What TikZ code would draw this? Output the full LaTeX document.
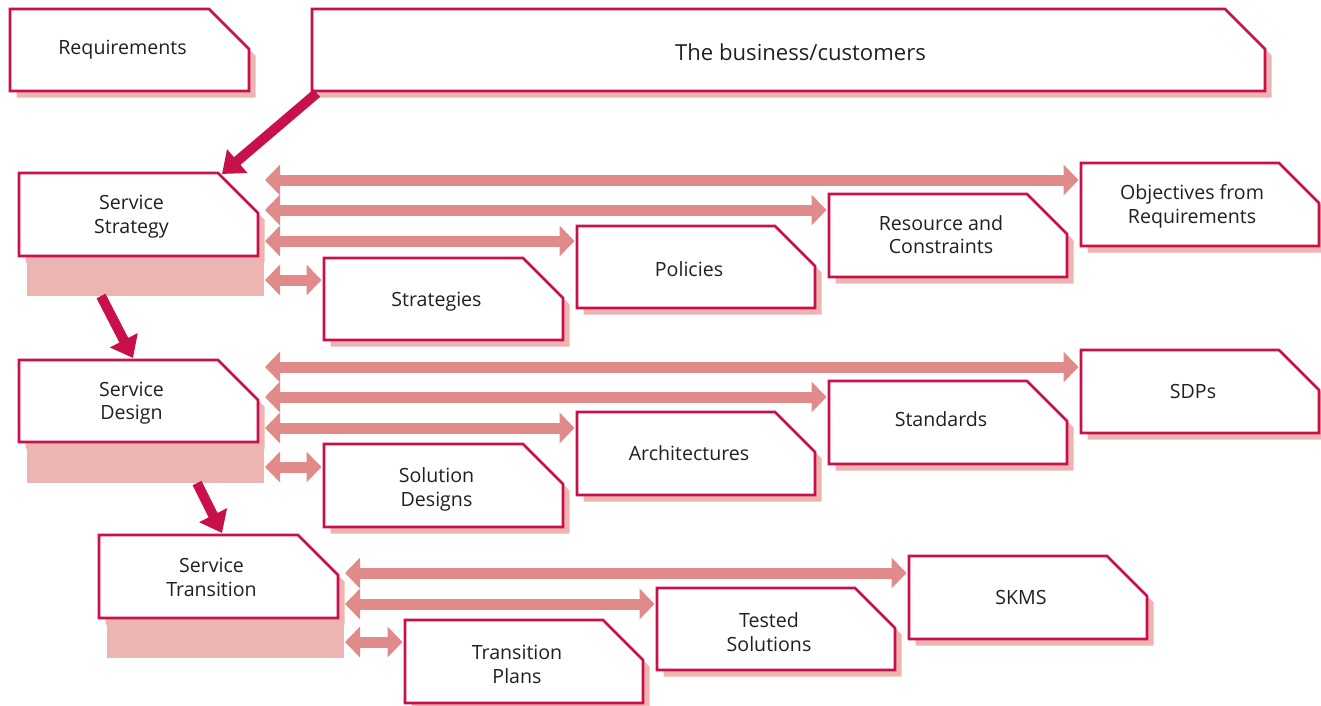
\documentclass[tikz,border=0pt]{standalone}
\usepackage{fontspec}
\setmainfont{Open Sans}
\usetikzlibrary{arrows.meta,calc}
\definecolor{crim}{HTML}{C8104B}
\definecolor{shad}{HTML}{EDB5B2}
\definecolor{arr}{HTML}{E08A8A}
\definecolor{txt}{HTML}{231F20}
\newcommand\cutbox[5]{%
  \node[box,minimum width=#4pt,minimum height=#5pt] (#1) at ({#2+#4/2},{#3+#5/2}) {};
  \fill[shad] ($(#1.north west)+(6.5,6.5)$) -- ($(#1.north east)+(-33.5,6.5)$) -- ($(#1.north east)+(6.5,46.5)$) -- ($(#1.south east)+(6.5,6.5)$) -- ($(#1.south west)+(6.5,6.5)$) -- cycle;
  \draw[boxline] (#1.north west) -- ($(#1.north east)+(-40,0)$) -- ($(#1.north east)+(0,40)$) -- (#1.south east) -- (#1.south west) -- cycle;
}
\newcommand\rowarrow[3]{%
  \draw[dbl] ($(#1.north east)+(7,#2)$) coordinate (#3-s) -- ($(#3.west |- #3-s)+(-2.5,0)$);
}
\begin{document}
\begin{tikzpicture}[x=1pt,y=-1pt,
  box/.style={draw=none,inner sep=0pt,outer sep=0pt},
  boxline/.style={draw=crim,fill=white,line width=2.8pt,line join=miter},
  lbl/.style={text=txt,align=center,inner sep=0pt,font=\fontsize{19.6}{23.5}\selectfont},
  biglbl/.style={text=txt,align=center,inner sep=0pt,font=\fontsize{22.1}{26}\selectfont},
  dbl/.style={draw=arr,line width=11pt,{Triangle[length=15pt,width=30pt]}-{Triangle[length=15pt,width=30pt]}},
  crarrow/.style={draw=crim,line width=10pt,-{Triangle[length=20pt,width=30pt]}},
  shadblock/.style={fill=shad},
]
\useasboundingbox (0,0) rectangle (1321,705);

% top boxes
\cutbox{req}{10}{9}{239}{82}
\node[lbl] (req-t) at ($(req.center)+(-7,0)$) {Requirements};
\cutbox{bus}{312}{9}{953}{82}
\node[biglbl] (bus-t) at ($(bus.center)+(12,2)$) {The business/customers};

% service boxes with shadow blocks
\fill[shadblock] (27,255) rectangle (264,296);
\cutbox{ss}{19}{173}{239}{83}
\node[lbl] (ss-t) at ($(ss.center)+(-7,2)$) {Service\\Strategy};
\fill[shadblock] (27,442) rectangle (264,483);
\cutbox{sd}{19}{360}{239}{82}
\node[lbl] (sd-t) at ($(sd.center)+(-7,2)$) {Service\\Design};
\fill[shadblock] (107,617) rectangle (344,658);
\cutbox{st}{99}{535}{239}{83}
\node[lbl] (st-t) at ($(st.center)+(-7,1)$) {Service\\Transition};

% strategy outputs
\cutbox{obj}{1081}{163}{238}{83}
\node[lbl] (obj-t) at ($(obj.center)+(-8,2)$) {Objectives from\\Requirements};
\cutbox{res}{829}{194}{238}{83}
\node[lbl] (res-t) at ($(res.center)+(-7,-1)$) {Resource and\\Constraints};
\cutbox{pol}{577}{226}{238}{82}
\node[lbl] (pol-t) at ($(pol.center)+(-7,2)$) {Policies};
\cutbox{str}{324}{258}{239}{82}
\node[lbl] (str-t) at ($(str.center)+(-7,3)$) {Strategies};

% design outputs
\cutbox{sdp}{1081}{350}{238}{83}
\node[lbl] (sdp-t) at ($(sdp.center)+(-7,0)$) {SDPs};
\cutbox{std}{829}{381}{238}{83}
\node[lbl] (std-t) at ($(std.center)+(-7,-3)$) {Standards};
\cutbox{arc}{577}{412}{238}{83}
\node[lbl] (arc-t) at ($(arc.center)+(-7,0)$) {Architectures};
\cutbox{sol}{324}{444}{239}{83}
\node[lbl] (sol-t) at ($(sol.center)+(-7,4)$) {Solution\\Designs};

% transition outputs
\cutbox{skm}{909}{556}{238}{83}
\node[lbl] (skm-t) at ($(skm.center)+(-7,0)$) {SKMS};
\cutbox{tst}{657}{588}{238}{82}
\node[lbl] (tst-t) at ($(tst.center)+(-7,3)$) {Tested\\Solutions};
\cutbox{trp}{405}{620}{238}{83}
\node[lbl] (trp-t) at ($(trp.center)+(-7,3)$) {Transition\\Plans};

% double arrows
\rowarrow{ss}{7}{obj}
\rowarrow{ss}{37}{res}
\rowarrow{ss}{68}{pol}
\rowarrow{ss}{107}{str}
\rowarrow{sd}{7}{sdp}
\rowarrow{sd}{37}{std}
\rowarrow{sd}{68}{arc}
\rowarrow{sd}{107}{sol}
\rowarrow{st}{38}{skm}
\rowarrow{st}{69}{tst}
\rowarrow{st}{107}{trp}

% crimson flow arrows
\draw[crarrow] ($(bus.south west)+(5,2)$) -- ($(ss.north west)+(203,1)$);
\draw[crarrow] ($(ss.south west)+(82,40)$) -- ($(sd.north west)+(114,-2)$);
\draw[crarrow] ($(sd.south west)+(178,41)$) -- ($(st.north west)+(123,-2)$);
\end{tikzpicture}
\end{document}
